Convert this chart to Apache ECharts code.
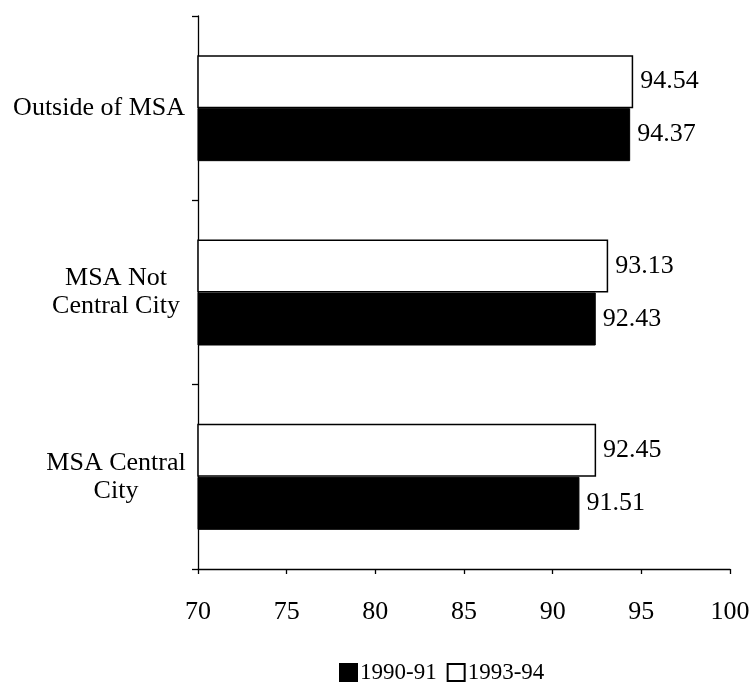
<!DOCTYPE html>
<html>
<head>
<meta charset="utf-8">
<script src="https://cdn.jsdelivr.net/npm/echarts@6/dist/echarts.min.js"></script>
<style>
html,body{margin:0;padding:0;background:#fff;}
#chart{width:753px;height:684px;}
</style>
</head>
<body>
<div id="chart"></div>
<script>
var categories = ['MSA Central\nCity', 'MSA Not\nCentral City', 'Outside of MSA'];
var seriesNames = ['1990-91', '1993-94'];
var values1990 = [91.51, 92.43, 94.37];
var values1993 = [92.45, 93.13, 94.54];
var xTicks = [70, 75, 80, 85, 90, 95, 100];

var FONT = "'Liberation Serif', 'Times New Roman', serif";
var chart = echarts.init(document.getElementById('chart'), null, {renderer: 'canvas'});

function valueLabel() {
  return {show: true, position: 'right', distance: 7, fontFamily: FONT, fontSize: 26, color: '#000',
    formatter: function (p) { return p.value.toFixed(2); }};
}

var option = {
  backgroundColor: '#fff',
  animation: false,
  grid: {left: 198, right: 23, top: 16, bottom: 115, containLabel: false},
  legend: {
    data: seriesNames,
    left: 334,
    top: 656,
    itemWidth: 17,
    itemHeight: 17,
    itemGap: 10,
    textStyle: {fontFamily: FONT, fontSize: 23, color: '#000', padding: [0, 0, 0, -2]},
    icon: 'rect'
  },
  xAxis: {
    type: 'value',
    min: xTicks[0],
    max: xTicks[xTicks.length - 1],
    interval: 5,
    splitLine: {show: false},
    axisLine: {show: true, lineStyle: {color: '#000', width: 1.3}},
    axisTick: {show: true, length: 5, lineStyle: {color: '#000', width: 1.3}},
    axisLabel: {margin: 30, fontFamily: FONT, fontSize: 26, color: '#000'}
  },
  yAxis: {
    type: 'category',
    data: categories,
    axisLine: {show: true, lineStyle: {color: '#000', width: 1.3}},
    axisTick: {show: true, length: 6, lineStyle: {color: '#000', width: 1.3}},
    axisLabel: {
      margin: 13,
      fontFamily: FONT,
      fontSize: 26,
      color: '#000',
      lineHeight: 28,
      formatter: function (v) {
        var parts = v.split('\n');
        if (parts.length === 1) return v;
        return parts.map(function (p) { return '{c|' + p + '}'; }).join('\n');
      },
      rich: {
        c: {width: 138, align: 'center', fontFamily: FONT, fontSize: 26, color: '#000', lineHeight: 28}
      }
    }
  },
  series: [
    {
      name: seriesNames[1],
      type: 'bar',
      data: values1993,
      barWidth: 53,
      barGap: '0%',
      itemStyle: {color: '#fff', borderColor: '#000', borderWidth: 1.5},
      label: valueLabel()
    },
    {
      name: seriesNames[0],
      type: 'bar',
      data: values1990,
      barWidth: 53,
      barGap: '0%',
      itemStyle: {color: '#000', borderColor: '#000', borderWidth: 1},
      label: valueLabel()
    }
  ]
};
chart.setOption(option);
</script>
</body>
</html>
